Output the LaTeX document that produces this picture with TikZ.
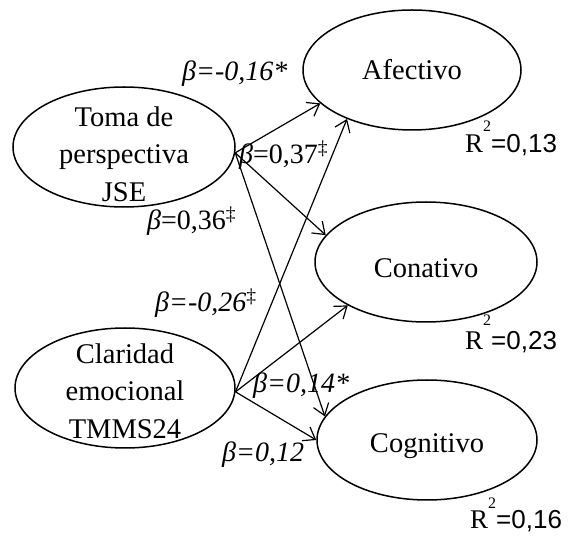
\documentclass[tikz,border=0pt]{standalone}
\usepackage{fontspec}
\setmainfont{Liberation Serif}
\setsansfont{Liberation Sans}
\usetikzlibrary{shapes.geometric,arrows.meta}
\begin{document}
\begin{tikzpicture}[x=1pt,y=-1pt,
  latent/.style={draw,ellipse,line width=1.5pt,inner sep=0pt},
  pathline/.style={line width=1.2pt,-{Straight Barb[length=11pt,width=16pt,line width=1.2pt]}},
  etext/.style={font=\fontsize{28.5}{37.5}\selectfont,align=center,inner sep=0pt},
  coef/.style={font=\fontsize{28}{30}\selectfont,inner sep=0pt,anchor=base west},
  rsq/.style={font=\fontsize{27}{28}\selectfont,inner sep=0pt,anchor=base west}]
\useasboundingbox (0,0) rectangle (571,537);
% latent variables
\node[latent,minimum width=222pt,minimum height=120pt] (toma) at (124,147) {};
\node[latent,minimum width=220pt,minimum height=120pt] (claridad) at (125,388) {};
\node[latent,minimum width=218pt,minimum height=120pt] (afectivo) at (412,70) {};
\node[latent,minimum width=222pt,minimum height=120pt] (conativo) at (426,262) {};
\node[latent,minimum width=220pt,minimum height=120pt] (cognitivo) at (427,440) {};
% texts
\node[etext] (tomat) at (124,154) {Toma de\\perspectiva\\JSE};
\node[etext] (claridadt) at (125,391) {Claridad\\emocional\\TMMS24};
\node[etext,anchor=base] (afectivot) at (412,80) {Afectivo};
\node[etext,anchor=base] (conativot) at (426,278) {Conativo};
\node[etext,anchor=base] (cognitivot) at (427,453) {Cognitivo};
% paths
\draw[pathline] (toma.357) -- (afectivo.200);
\draw[pathline] (toma.357) -- (conativo.165);
\draw[pathline] (toma.357) -- (cognitivo.167);
\draw[pathline] (claridad.358) -- (afectivo.217);
\draw[pathline] (claridad.358) -- (conativo.209);
\draw[pathline] (claridad.358) -- (cognitivo.180);
% coefficients
\node[coef] (c1) at (182,81) {\itshape β=-0,16*};
\node[coef] (c2) at (239,164) {\itshape β\upshape =0,37\textsuperscript{‡}};
\node[coef] (c3) at (147,230) {\itshape β\upshape =0,36\textsuperscript{‡}};
\node[coef] (c4) at (155,312) {\itshape β=-0,26\upshape\textsuperscript{‡}};
\node[coef] (c5) at (253,393) {\itshape β=0,14*};
\node[coef] (c6) at (222,462) {\itshape β=0,12};
% R squared
\node[rsq] (r1) at (465,153) {R\raisebox{21pt}{\fontsize{16}{16}\selectfont 2}{\sffamily\fontsize{26}{28}\selectfont =0,13}};
\node[rsq] (r2) at (465,350) {R\raisebox{24pt}{\fontsize{16}{16}\selectfont 2}{\sffamily\fontsize{26}{28}\selectfont =0,23}};
\node[rsq] (r3) at (470,529) {R\raisebox{20pt}{\fontsize{16}{16}\selectfont 2}{\sffamily\fontsize{26}{28}\selectfont =0,16}};
\end{tikzpicture}
\end{document}
